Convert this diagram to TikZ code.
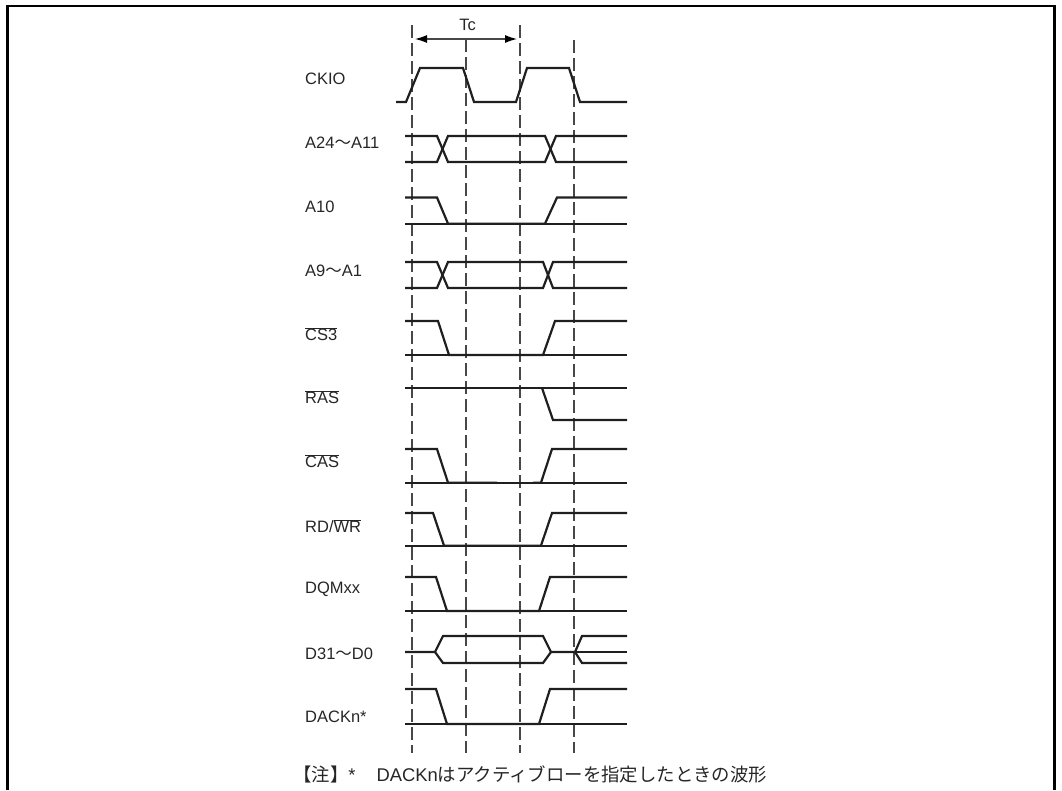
\documentclass[tikz,border=0pt]{standalone}
\usepackage{fontspec}
\setmainfont{Liberation Sans}
\newfontfamily\cjk{Noto Sans CJK JP}
\usetikzlibrary{arrows.meta}
\tikzset{
  wave/.style={line width=2.2pt,line join=miter,black!88},
  guide/.style={line width=1.1pt,black!72,dash pattern=on 13pt off 5pt},
  sig/.style={anchor=west,inner sep=0pt,font=\fontsize{16.5}{16.5}\selectfont,text=black!85},
  frameline/.style={line width=2.4pt,black},
  span/.style={line width=1.1pt,black!72,{Latex[length=12pt,width=8pt,black]}-{Latex[length=12pt,width=8pt,black]}}
}
\begin{document}
\begin{tikzpicture}[x=1pt,y=-1pt]
\useasboundingbox (0,0) rectangle (1062,790);
\draw[frameline] (7.5,790) -- (7.5,6) -- (1054.5,6) -- (1054.5,790);
% guides
\coordinate (g1t) at (412,25); \coordinate (g1b) at (412,753);
\coordinate (g2t) at (466,39); \coordinate (g2b) at (466,753);
\coordinate (g3t) at (520,25); \coordinate (g3b) at (520,753);
\coordinate (g4t) at (574,40); \coordinate (g4b) at (574,753);
\draw[guide] (g1t) -- (g1b);
\draw[guide] (g2t) -- (g2b);
\draw[guide] (g3t) -- (g3b);
\draw[guide] (g4t) -- (g4b);
\coordinate (tcl) at (415,39); \coordinate (tcr) at (517,39);
\draw[span] (tcl) -- (tcr);
\node[inner sep=0pt,font=\fontsize{16.5}{16.5}\selectfont,text=black!85] (tc) at (467.5,25) {Tc};
% labels
\node[sig] (l1) at (305,79) {CKIO};
\node[sig] (l2) at (305,143) {A24{\cjk ～}A11};
\node[sig] (l3) at (305,207) {A10};
\node[sig] (l4) at (305,271) {A9{\cjk ～}A1};
\node[sig] (l5) at (305,334) {$\overline{\mbox{CS3}}$};
\node[sig] (l6) at (305,397) {$\overline{\mbox{RAS}}$};
\node[sig] (l7) at (305,461) {$\overline{\mbox{CAS}}$};
\node[sig] (l8) at (305,526) {RD/$\overline{\mbox{WR}}$};
\node[sig] (l9) at (305,589) {DQMxx};
\node[sig] (l10) at (305,654) {D31{\cjk ～}D0};
\node[sig] (l11) at (305,717) {DACKn*};
\node[anchor=west,inner sep=0pt,font=\fontsize{18.4}{18.4}\selectfont,text=black!85] (note) at (293,774) {{\cjk 【注】}*\hspace{21pt}DACKn{\cjk はアクティブローを指定したときの波形}};
% CKIO
\draw[wave] (396,102) -- (406,102) -- (420,68) -- (463,68) -- (474,102) -- (516,102) -- (527,68) -- (569,68) -- (580,102) -- (627,102);
% A24-A11
\draw[wave] (405,136) -- (437,136) -- (448,162) -- (545,162) -- (556,136) -- (627,136);
\draw[wave] (405,162) -- (437,162) -- (448,136) -- (545,136) -- (556,162) -- (627,162);
% A10
\draw[wave] (405,197.5) -- (437,197.5) -- (448,223.6) -- (545,223.6) -- (557,197.5) -- (627,197.5);
\draw[wave] (405,224) -- (627,224);
% A9-A1
\draw[wave] (405,262) -- (437,262) -- (448,288) -- (543,288) -- (553,262) -- (627,262);
\draw[wave] (405,288) -- (437,288) -- (448,262) -- (543,262) -- (553,288) -- (627,288);
% CS3
\draw[wave] (405,321) -- (438,321) -- (449,355) -- (543,355) -- (555,321) -- (627,321);
\draw[wave] (405,355) -- (627,355);
% RAS
\draw[wave] (405,388) -- (627,388);
\draw[wave] (542,388) -- (553,420) -- (627,420);
% CAS
\draw[wave] (405,449) -- (437,449) -- (448,482.6) -- (497,482.6);
\draw[wave] (533,482.6) -- (541,482.6) -- (552,449) -- (627,449);
\draw[wave] (405,483) -- (627,483);
% RD/WR
\draw[wave] (405,513) -- (433,513) -- (444,545.6) -- (541,545.6) -- (552,513) -- (627,513);
\draw[wave] (405,546) -- (627,546);
% DQMxx
\draw[wave] (405,577) -- (436,577) -- (447,611) -- (539,611) -- (550,577) -- (627,577);
\draw[wave] (405,611) -- (627,611);
% D31-D0
\draw[wave] (405,652) -- (435,652) -- (443,636) -- (543,636) -- (551,652) -- (575,652) -- (582,636) -- (627,636);
\draw[wave] (435,652) -- (443,663) -- (543,663) -- (551,652);
\draw[wave] (575,652) -- (627,652);
\draw[wave] (575,652) -- (582,663) -- (627,663);
% DACKn
\draw[wave] (405,689) -- (436,689) -- (447,724) -- (539,724) -- (550,689) -- (627,689);
\draw[wave] (405,724) -- (627,724);
\end{tikzpicture}
\end{document}
